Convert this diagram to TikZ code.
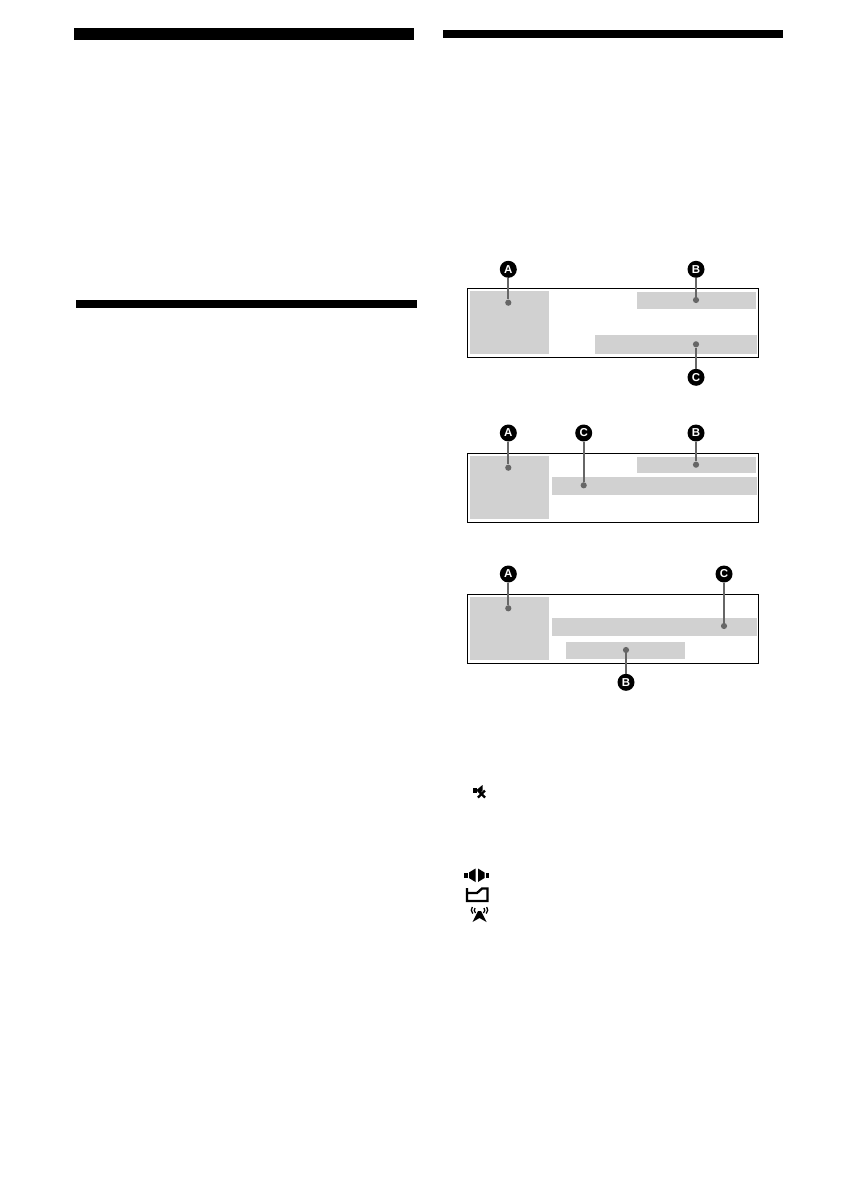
\documentclass[tikz,border=0pt]{standalone}
\usepackage{fontspec}
\setmainfont{Liberation Sans}
\begin{document}
\begin{tikzpicture}[x=1pt,y=-1pt,
  bar/.style={fill=black,draw=none},
  lcd/.style={draw=black,line width=1pt,fill=white},
  zone/.style={fill=black!18,draw=none},
  lead/.style={draw=black!60,line width=1.9pt},
  dotmark/.style={circle,fill=black!60,draw=none,minimum size=6.2pt,inner sep=0pt},
  badge/.style={circle,fill=black,draw=none,minimum size=17pt,inner sep=0pt,text=white,font=\fontsize{11.5}{11.5}\selectfont\bfseries},
  icon/.style={fill=black,draw=none},
  iconline/.style={draw=black,line width=2.3pt},
  wave/.style={draw=black,line width=1.3pt}]
\useasboundingbox (0,0) rectangle (840,1190);
\fill[white] (0,0) rectangle (840,1190);
\fill[bar] (74,28) rectangle (414,40);
\fill[bar] (76,300) rectangle (417,308);
\fill[bar] (443,30) rectangle (783,38);

% panel 1
\draw[lcd] (467.5,288.5) rectangle (758.5,357.5);
\fill[zone] (470,291) rectangle (549,354);
\fill[zone] (637,292) rectangle (756,309);
\fill[zone] (595,335) rectangle (757,354);
\node[badge] (a1) at (508.3,269.3) {A};
\node[badge] (b1) at (696,269.3) {B};
\node[badge] (c1) at (696,377.3) {C};
\node[dotmark] (da1) at (508.3,302.7) {};
\node[dotmark] (db1) at (696,300) {};
\node[dotmark] (dc1) at (696,344.3) {};
\draw[lead] (a1) -- (da1);
\draw[lead] (b1) -- (db1);
\draw[lead] (c1) -- (dc1);

% panel 2
\draw[lcd] (467.5,453.5) rectangle (758.5,522.5);
\fill[zone] (470,456) rectangle (549,519);
\fill[zone] (637,457) rectangle (756,473);
\fill[zone] (552,477) rectangle (757,495);
\node[badge] (a2) at (508.3,433) {A};
\node[badge] (c2) at (583.7,433) {C};
\node[badge] (b2) at (696,433) {B};
\node[dotmark] (da2) at (508.3,467.7) {};
\node[dotmark] (dc2) at (583.7,485.3) {};
\node[dotmark] (db2) at (696,464.7) {};
\draw[lead] (a2) -- (da2);
\draw[lead] (c2) -- (dc2);
\draw[lead] (b2) -- (db2);

% panel 3
\draw[lcd] (467.5,594.5) rectangle (758.5,663.5);
\fill[zone] (470,597) rectangle (549,660);
\fill[zone] (552,618) rectangle (757,636);
\fill[zone] (566,642) rectangle (685,659);
\node[badge] (a3) at (508.3,574) {A};
\node[badge] (c3) at (724,574) {C};
\node[badge] (b3) at (626,682.3) {B};
\node[dotmark] (da3) at (508.3,608.3) {};
\node[dotmark] (dc3) at (724,626) {};
\node[dotmark] (db3) at (626,650) {};
\draw[lead] (a3) -- (da3);
\draw[lead] (c3) -- (dc3);
\draw[lead] (b3) -- (db3);

% mute icon
\fill[icon] (473,788) rectangle (476.5,793);
\fill[icon] (476.5,790) -- (482.5,785) -- (482.5,790.5) -- (480,793) -- cycle;
\draw[iconline] (478,797.5) -- (485,790.5);
\draw[iconline] (478,790.5) -- (485,797.5);

% speaker icon
\fill[icon] (464,873) rectangle (467.5,878);
\fill[icon] (485.5,873) rectangle (489,878);
\fill[icon] (475.5,868.5) -- (475.5,882) -- (469,878) -- (469,872.5) -- cycle;
\fill[icon] (478,868.5) -- (478,882) -- (484.5,878) -- (484.5,872.5) -- cycle;

% folder icon
\draw[iconline,line join=miter] (467,888) -- (467,901) -- (487.5,901) -- (487.5,888.5) -- (482,888.5) -- (477,893) -- (467,893);

% antenna icon
\fill[icon] (478,911) -- (481,911) -- (486.5,922) -- (479.5,918) -- (472.5,922) -- cycle;
\draw[wave] (475,908) .. controls (473.8,909.5) and (474,911.5) .. (475.5,913);
\draw[wave] (472.3,907) .. controls (470.8,909) and (471,911.5) .. (472.8,913.5);
\draw[wave] (484,908) .. controls (485.2,909.5) and (485,911.5) .. (483.5,913);
\draw[wave] (486.7,907) .. controls (488.2,909) and (488,911.5) .. (486.2,913.5);
\end{tikzpicture}
\end{document}
